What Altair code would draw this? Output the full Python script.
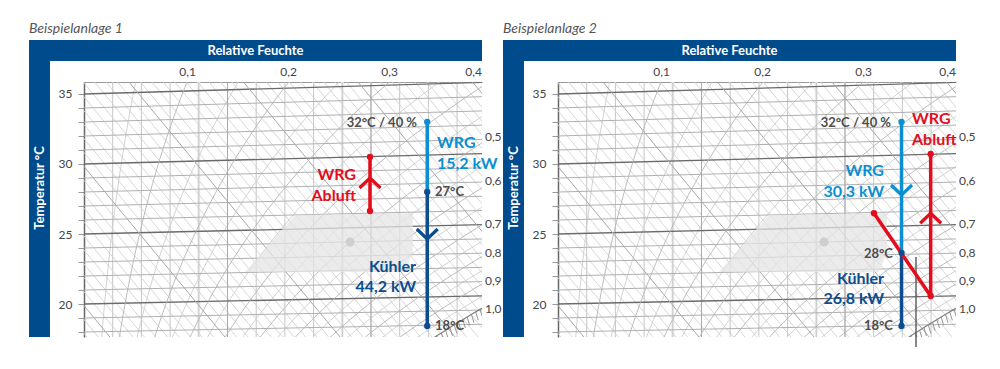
import altair as alt
import numpy as np
import pandas as pd

# ---------------- values ----------------
# chart coordinates: x = water content (g/kg), y = temperature axis (°C)
X_DOMAIN = [0.0, 13.868]
Y_DOMAIN = [17.643, 35.857]

panel_titles = ["Beispielanlage 1", "Beispielanlage 2"]
frame_title = "Relative Feuchte"
axis_title = "Temperatur °C"

temp_ticks = [18, 19, 20, 21, 22, 23, 24, 25, 26, 27, 28, 29, 30, 31, 32, 33, 34, 35]
isotherm_temps = [16, 17, 18, 19, 20, 21, 22, 23, 24, 25, 26, 27, 28, 29, 30, 31, 32, 33, 34, 35, 36, 37]
enthalpy_values = list(range(10, 80))
rh_values = [0.05, 0.1, 0.15, 0.2, 0.25, 0.3, 0.35, 0.4, 0.45, 0.5,
             0.55, 0.6, 0.65, 0.7, 0.75, 0.8, 0.85, 0.9, 0.95, 1.0]
rh_major = [0.1, 0.2, 0.3, 0.4, 0.5, 0.6, 0.7, 0.8, 0.9, 1.0]
moisture_values = [1, 2, 3, 4, 5, 6, 7, 8, 9, 10, 11, 12, 13]
moisture_major = [5, 10]
moisture_soft = [4, 9]

rh_top_text = ["0,1", "0,2", "0,3"]
rh_top_x = [3.61, 7.13, 10.65]
rh_top_last_text = ["0,4"]
rh_top_y = 36.571
rh_right_text = ["0,5", "0,6", "0,7", "0,8", "0,9", "1,0"]
rh_right_y = [31.93, 28.79, 25.71, 23.64, 21.64, 19.64]
rh_right_x = 13.97

frame_x = [-1.916, -1.916]
frame_x2 = [13.868, -1.185]
frame_y = [37.357, 17.643]
frame_y2 = [38.857, 38.857]
frame_title_pos = (5.976, 38.07)
axis_title_pos = (-1.55, 28.29)
panel_title_pos = (-1.916, 39.336)

comfort_x = [5.61, 7.35, 11.18, 11.46]
comfort_top = [22.29, 26.36, 26.48, 26.50]
comfort_bottom = [22.29, 22.29, 22.29, 23.71]
comfort_dot_x = [9.27]
comfort_dot_y = [24.43]

LB, DB, RD, GT = "#0b8fd0", "#0b4d8f", "#e30d1d", "#4d4d4d"
FRAME = "#004b8c"

# process lines per panel
seg_x = [[11.96, 11.96, 9.965], [11.97, 11.97, 11.01, 12.986]]
seg_y = [[33.0, 28.0, 26.643], [33.0, 23.643, 26.48, 20.571]]
seg_x2 = [[11.96, 11.96, 9.965], [11.97, 11.97, 12.986, 12.986]]
seg_y2 = [[28.0, 18.429, 30.5], [23.643, 18.429, 20.571, 30.714]]
seg_c = [[LB, DB, RD], [LB, DB, RD, RD]]

dark_x = [[], [12.474]]
dark_y = [[], [23.357]]
dark_y2 = [[], [16.93]]

pt_x = [[11.96, 11.96, 11.96, 9.965, 9.965], [11.97, 11.97, 11.97, 11.01, 12.986, 12.986]]
pt_y = [[33.0, 28.0, 18.429, 26.643, 30.5], [33.0, 23.643, 18.429, 26.48, 20.571, 30.714]]
pt_c = [[LB, DB, DB, RD, RD], [LB, DB, DB, RD, RD, RD]]

chev_x = [[11.96, 9.965], [11.97, 12.986]]
chev_y = [[24.643, 29.0], [27.786, 26.48]]
chev_dir = [["down", "up"], ["down", "up"]]
chev_c = [[DB, RD], [LB, RD]]

big_text = [["WRG", "15,2 kW", "WRG", "Abluft", "Kühler", "44,2 kW"],
            ["WRG", "Abluft", "WRG", "30,3 kW", "Kühler", "26,8 kW"]]
big_x = [[12.30, 12.30, 9.477, 9.477, 11.568, 11.568],
         [12.334, 12.334, 11.359, 11.359, 11.359, 11.359]]
big_y = [[31.5, 30.0, 29.214, 27.714, 22.643, 21.214],
         [33.214, 31.714, 29.5, 28.0, 21.786, 20.357]]
big_c = [[LB, LB, RD, RD, DB, DB], [RD, RD, LB, LB, DB, DB]]
big_align = [["left", "left", "right", "right", "right", "right"],
             ["left", "left", "right", "right", "right", "right"]]

small_text = [["32°C / 40 %", "27°C", "18°C"], ["32°C / 40 %", "28°C", "18°C"]]
small_x = [[11.603, 12.23, 12.23], [11.603, 11.672, 11.672]]
small_y = [[32.93, 28.0, 18.429], [32.93, 23.571, 18.429]]
small_align = [["right", "left", "left"], ["right", "right", "right"]]


# ---------------- diagram geometry (h,x-diagram background) ----------------
def psat(t):
    return 0.6112 * np.exp(17.62 * t / (243.12 + t))


def water(t, phi):
    ps = psat(t)
    return 622.0 * phi * ps / (101.325 - phi * ps)


def skew_y(t, xw):
    return t + (0.01904 + 0.001153 * t) * xw


light_rows, dark_rows = [], []
for T in isotherm_temps:
    target = dark_rows if T % 5 == 0 else light_rows
    for i, xw in enumerate(X_DOMAIN):
        target.append(dict(id=f"t{T}", i=i, X=xw, Y=skew_y(T, xw),
                           c="#6a6a6a" if T % 5 == 0 else "#b0b0b0",
                           w=1.3 if T % 5 == 0 else 1.0))
enth_rows = []
for h in enthalpy_values:
    xs_ = np.linspace(-0.3, 14.2, 12)
    t = (h - 2.501 * xs_) / (1.006 + 0.00186 * xs_)
    for i, (xw, tt) in enumerate(zip(xs_, t)):
        row = dict(id=f"h{h}", i=i, X=float(xw), Y=float(skew_y(tt, xw)),
                   c="#a8a8a8" if h % 10 == 0 else "#d2d2d2", w=1.0 if h % 10 == 0 else 0.9)
        (dark_rows if h % 10 == 0 else enth_rows).append(row)
rh_rows = []
for phi in rh_values:
    tt = np.arange(8, 40.01, 0.25)
    xw = water(tt, phi)
    yy = skew_y(tt, xw)
    m = (xw < 15) & (yy > 16) & (yy < 37.5)
    major = any(abs(phi - q) < 1e-6 for q in rh_major)
    for i, (a, b) in enumerate(zip(xw[m], yy[m])):
        row = dict(id=f"r{phi}", i=i, X=float(a), Y=float(b),
                   c="#808080" if phi == 1.0 else ("#b4b4b4" if major else "#cdcdcd"),
                   w=1.2 if phi == 1.0 else 0.9)
        (dark_rows if major else rh_rows).append(row)

hatch = []
for xw in np.arange(12.3, 13.87, 0.15):
    pw = xw * 101.325 / (622 + xw)
    a = np.log(pw / 0.6112)
    td = 243.12 * a / (17.62 - a)
    y0 = skew_y(td, xw)
    hatch.append(dict(X=float(xw), Y=float(y0), X2=float(xw + 0.09), Y2=float(y0 - 0.6)))

df_light = pd.DataFrame(enth_rows + rh_rows + light_rows)
df_dark = pd.DataFrame(dark_rows)
df_hatch = pd.DataFrame(hatch)

xs = alt.Scale(domain=X_DOMAIN, nice=False, zero=False)
ys = alt.Scale(domain=Y_DOMAIN, nice=False, zero=False)
xaxis = alt.Axis(orient="top", labels=False, ticks=False, grid=False, domain=True,
                 domainColor="#9a9a9a", domainWidth=1.2, title=None)
yaxis = alt.Axis(values=temp_ticks, labelExpr="datum.value % 5 == 0 ? datum.label : ''",
                 tickSize=6, tickColor="#9a9a9a", tickWidth=1, domainColor="#666666", domainWidth=1.5,
                 grid=False, title=None, labelFont="Lato", labelFontSize=12, labelColor="#444444",
                 labelPadding=6, labelOverlap=False)


def ex(f):
    return alt.X(f, type="quantitative", scale=xs, axis=xaxis)


def ey(f):
    return alt.Y(f, type="quantitative", scale=ys, axis=yaxis)


def text_layer(df, align, size, weight="normal", color=None, style="normal", angle=0, baseline="middle"):
    kw = dict(align=align, fontSize=size, fontWeight=weight, font="Lato", baseline=baseline,
              fontStyle=style, angle=angle, clip=False)
    if color is not None and not color.startswith("field:"):
        kw["color"] = color
    m = alt.Chart(df).mark_text(**kw)
    enc = dict(x=ex("X"), y=ey("Y"), text="t:N")
    if color is not None and color.startswith("field:"):
        enc["color"] = alt.Color(color[6:] + ":N", scale=None)
    return m.encode(**enc)


def panel(p):
    L = []
    L.append(alt.Chart(pd.DataFrame({"X": moisture_soft})).mark_rule(color="#ededed", strokeWidth=3)
             .encode(x=ex("X")))
    L.append(alt.Chart(pd.DataFrame({"X": moisture_values})).mark_rule(color="#c6c6c6", strokeWidth=1)
             .encode(x=ex("X")))
    L.append(alt.Chart(df_light).mark_line(clip=True).encode(
        x=ex("X"), y=ey("Y"), detail="id:N", order="i:Q",
        color=alt.Color("c:N", scale=None), strokeWidth=alt.StrokeWidth("w:Q", scale=None)))
    L.append(alt.Chart(pd.DataFrame({"X": moisture_major})).mark_rule(color="#a8a8a8", strokeWidth=1)
             .encode(x=ex("X")))
    L.append(alt.Chart(df_dark).mark_line(clip=True).encode(
        x=ex("X"), y=ey("Y"), detail="id:N", order="i:Q",
        color=alt.Color("c:N", scale=None), strokeWidth=alt.StrokeWidth("w:Q", scale=None)))
    L.append(alt.Chart(df_hatch).mark_rule(color="#8a8a8a", strokeWidth=0.9, clip=True).encode(
        x=ex("X"), y=ey("Y"), x2="X2:Q", y2="Y2:Q"))
    L.append(alt.Chart(pd.DataFrame({"X": comfort_x, "Y": comfort_top, "Y2": comfort_bottom}))
             .mark_area(color="#e4e4e4", opacity=0.75).encode(x=ex("X"), y=ey("Y"), y2="Y2:Q"))
    L.append(alt.Chart(pd.DataFrame({"X": comfort_dot_x, "Y": comfort_dot_y}))
             .mark_circle(color="#cfcfcf", size=80, opacity=1).encode(x=ex("X"), y=ey("Y")))
    # frame
    L.append(alt.Chart(pd.DataFrame({"X": frame_x, "X2": frame_x2, "Y": frame_y, "Y2": frame_y2}))
             .mark_rect(color=FRAME, clip=False).encode(x=ex("X"), x2="X2:Q", y=ey("Y"), y2="Y2:Q"))
    L.append(text_layer(pd.DataFrame({"X": [frame_title_pos[0]], "Y": [frame_title_pos[1]], "t": [frame_title]}),
                        "center", 13, "bold", "#ffffff"))
    L.append(text_layer(pd.DataFrame({"X": [axis_title_pos[0]], "Y": [axis_title_pos[1]], "t": [axis_title]}),
                        "center", 13, "bold", "#ffffff", angle=270))
    L.append(text_layer(pd.DataFrame({"X": [panel_title_pos[0]], "Y": [panel_title_pos[1]], "t": [panel_titles[p]]}),
                        "left", 14, "normal", "#555555", style="italic", baseline="alphabetic"))
    # RH labels
    L.append(text_layer(pd.DataFrame({"X": rh_top_x, "Y": [rh_top_y] * 3, "t": rh_top_text}),
                        "center", 12, "normal", "#444444"))
    L.append(text_layer(pd.DataFrame({"X": [X_DOMAIN[1]], "Y": [rh_top_y], "t": rh_top_last_text}),
                        "right", 12, "normal", "#444444"))
    L.append(text_layer(pd.DataFrame({"X": [rh_right_x] * 6, "Y": rh_right_y, "t": rh_right_text}),
                        "left", 12, "normal", "#444444"))
    # process
    if dark_x[p]:
        L.append(alt.Chart(pd.DataFrame({"X": dark_x[p], "Y": dark_y[p], "Y2": dark_y2[p]}))
                 .mark_rule(color="#555555", strokeWidth=1.4, clip=False).encode(x=ex("X"), y=ey("Y"), y2="Y2:Q"))
    L.append(alt.Chart(pd.DataFrame({"X": seg_x[p], "Y": seg_y[p], "X2": seg_x2[p], "Y2": seg_y2[p], "c": seg_c[p]}))
             .mark_rule(strokeWidth=3.5).encode(x=ex("X"), y=ey("Y"), x2="X2:Q", y2="Y2:Q",
                                                 color=alt.Color("c:N", scale=None)))
    shapes = {"down": "M-1,-0.95L0,0L1,-0.95", "up": "M-1,0.95L0,0L1,0.95"}
    L.append(alt.Chart(pd.DataFrame({"X": chev_x[p], "Y": chev_y[p], "s": [shapes[d] for d in chev_dir[p]],
                                     "c": chev_c[p]}))
             .mark_point(filled=False, strokeWidth=3.2, size=441, opacity=1)
             .encode(x=ex("X"), y=ey("Y"), shape=alt.Shape("s:N", scale=None),
                     color=alt.Color("c:N", scale=None)))
    L.append(alt.Chart(pd.DataFrame({"X": pt_x[p], "Y": pt_y[p], "c": pt_c[p]}))
             .mark_circle(size=40, opacity=1).encode(x=ex("X"), y=ey("Y"), color=alt.Color("c:N", scale=None)))
    dfs = pd.DataFrame({"X": small_x[p], "Y": small_y[p], "t": small_text[p], "a": small_align[p]})
    for a in ["left", "right"]:
        sub = dfs[dfs.a == a]
        if len(sub):
            L.append(text_layer(sub, a, 13, "bold", GT))
    dfb = pd.DataFrame({"X": big_x[p], "Y": big_y[p], "t": big_text[p], "c": big_c[p], "a": big_align[p]})
    for a in ["left", "right"]:
        sub = dfb[dfb.a == a]
        if len(sub):
            L.append(text_layer(sub, a, 16, "bold", "field:c"))
    return alt.layer(*L).properties(width=398, height=255)


chart = alt.hconcat(panel(0), panel(1), spacing=76, bounds="flush").properties(
    padding={"left": 21, "top": 14, "right": 5, "bottom": 5}
).configure_view(stroke=None)

chart.save("out.html", embed_options={"renderer": "svg", "actions": False})
